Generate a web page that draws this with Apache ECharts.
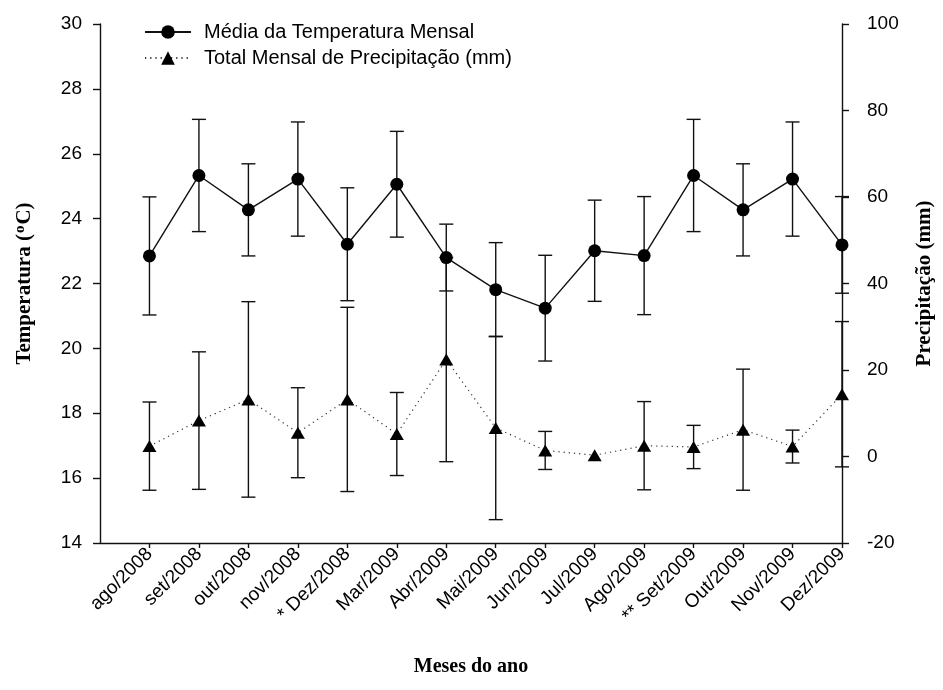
<!DOCTYPE html>
<html>
<head>
<meta charset="utf-8">
<script src="https://cdn.jsdelivr.net/npm/echarts@6/dist/echarts.min.js"></script>
<style>
  html, body { margin: 0; padding: 0; background: #fff; }
  #chart { width: 943px; height: 690px; }
</style>
</head>
<body>
<div id="chart"></div>
<script>
// meses (eixo x)
var months = ['ago/2008', 'set/2008', 'out/2008', 'nov/2008', '* Dez/2008', 'Mar/2009', 'Abr/2009',
  'Mai/2009', 'Jun/2009', 'Jul/2009', 'Ago/2009', '** Set/2009', 'Out/2009', 'Nov/2009', 'Dez/2009'];

// média da temperatura mensal (ºC) e desvio
var tempMean = [22.85, 25.33, 24.27, 25.22, 23.21, 25.06, 22.80, 21.81, 21.24, 23.01, 22.86, 25.33, 24.27, 25.22, 23.19];
var tempErr  = [1.82, 1.73, 1.42, 1.76, 1.74, 1.63, 1.03, 1.45, 1.63, 1.56, 1.82, 1.73, 1.42, 1.76, 1.49];

// total mensal de precipitação (mm) e desvio
var precTotal = [2.4, 8.3, 13.2, 5.5, 13.2, 5.2, 22.4, 6.6, 1.4, 0.3, 2.5, 2.2, 6.2, 2.3, 14.4];
var precErr   = [10.2, 15.9, 22.6, 10.4, 21.3, 9.6, 23.6, 21.2, 4.4, 0, 10.2, 5.0, 14.0, 3.8, 16.8];

var tempTicks = [14, 30, 2];
var precTicks = [-20, 100, 20];

var monthIdx = months.map(function (m, i) { return i; });

function pairs(vals) {
  return vals.map(function (v, i) { return [i, v]; });
}
function bars(vals, errs) {
  return vals.map(function (v, i) { return [i, v - errs[i], v + errs[i]]; });
}

function errorBar(params, api) {
  var x = api.value(0);
  var lo = api.value(1), hi = api.value(2);
  if (hi - lo <= 0) return null;
  var top = api.coord([x, hi]);
  var bot = api.coord([x, lo]);
  var w = 7;
  var st = { stroke: '#111', lineWidth: 1.4 };
  return {
    type: 'group',
    children: [
      { type: 'line', shape: { x1: top[0], y1: top[1], x2: bot[0], y2: bot[1] }, style: st },
      { type: 'line', shape: { x1: top[0] - w, y1: top[1], x2: top[0] + w, y2: top[1] }, style: st },
      { type: 'line', shape: { x1: bot[0] - w, y1: bot[1], x2: bot[0] + w, y2: bot[1] }, style: st }
    ]
  };
}

var sans = 'Liberation Sans, Arial, sans-serif';
var serif = 'Liberation Serif, Times New Roman, serif';
var axisColor = '#111';

var chart = echarts.init(document.getElementById('chart'));
chart.setOption({
  animation: false,
  backgroundColor: '#fff',
  textStyle: { fontFamily: sans, color: '#000' },
  grid: { left: 100, right: 101, top: 24, bottom: 147 },
  legend: {
    left: 144,
    top: 22,
    orient: 'vertical',
    padding: 0,
    itemGap: 6,
    itemWidth: 46,
    itemHeight: 17,
    data: ['Média da Temperatura Mensal', 'Total Mensal de Precipitação (mm)'],
    textStyle: { fontFamily: sans, fontSize: 20, color: '#000', padding: [0, 0, 0, 8] }
  },
  xAxis: {
    type: 'value',
    min: -1,
    max: 14,
    name: 'Meses do ano',
    nameLocation: 'middle',
    nameGap: 114,
    nameTextStyle: { fontFamily: serif, fontWeight: 'bold', fontSize: 20, color: '#000' },
    splitLine: { show: false },
    axisLine: { onZero: false, lineStyle: { color: axisColor, width: 1.4 } },
    axisTick: { length: 5, customValues: monthIdx, lineStyle: { color: axisColor, width: 1.4 } },
    axisLabel: {
      customValues: monthIdx,
      rotate: 45,
      margin: 8,
      fontSize: 19,
      color: '#000',
      formatter: function (v) { return months[v]; }
    }
  },
  yAxis: [
    {
      type: 'value',
      min: tempTicks[0],
      max: tempTicks[1],
      interval: tempTicks[2],
      name: '{t|Temperatura (}{s|o}{t|C)}',
      nameLocation: 'middle',
      nameRotate: 90,
      nameGap: 64,
      nameTextStyle: {
        rich: {
          t: { fontFamily: serif, fontWeight: 'bold', fontSize: 21, color: '#000' },
          s: { fontFamily: serif, fontWeight: 'bold', fontSize: 15, color: '#000', verticalAlign: 'top', padding: [0, 1, 8, 1] }
        }
      },
      splitLine: { show: false },
      axisLine: { show: true, onZero: false, lineStyle: { color: axisColor, width: 1.4 } },
      axisTick: { show: true, length: 7, lineStyle: { color: axisColor, width: 1.4 } },
      axisLabel: { margin: 18, fontSize: 19, color: '#000' }
    },
    {
      type: 'value',
      position: 'right',
      min: precTicks[0],
      max: precTicks[1],
      interval: precTicks[2],
      name: 'Precipitação (mm)',
      nameLocation: 'middle',
      nameRotate: 90,
      nameGap: 72,
      nameTextStyle: { fontFamily: serif, fontWeight: 'bold', fontSize: 21, color: '#000' },
      splitLine: { show: false },
      axisLine: { show: true, onZero: false, lineStyle: { color: axisColor, width: 1.4 } },
      axisTick: { show: true, length: 7, lineStyle: { color: axisColor, width: 1.4 } },
      axisLabel: { margin: 25, fontSize: 19, color: '#000' }
    }
  ],
  series: [
    {
      name: 'tempErr',
      type: 'custom',
      yAxisIndex: 0,
      clip: false,
      z: 1,
      renderItem: errorBar,
      encode: { x: 0, y: [1, 2] },
      data: bars(tempMean, tempErr)
    },
    {
      name: 'precErr',
      type: 'custom',
      yAxisIndex: 1,
      clip: false,
      z: 1,
      renderItem: errorBar,
      encode: { x: 0, y: [1, 2] },
      data: bars(precTotal, precErr)
    },
    {
      name: 'Média da Temperatura Mensal',
      type: 'line',
      yAxisIndex: 0,
      z: 3,
      symbol: 'circle',
      symbolSize: 13,
      itemStyle: { color: '#000' },
      lineStyle: { color: '#111', width: 1.4 },
      data: pairs(tempMean)
    },
    {
      name: 'Total Mensal de Precipitação (mm)',
      type: 'line',
      yAxisIndex: 1,
      z: 3,
      symbol: 'triangle',
      symbolSize: [14, 12],
      itemStyle: { color: '#000' },
      lineStyle: { color: '#333', width: 1.2, type: [1.2, 4] },
      data: pairs(precTotal)
    }
  ]
});
</script>
</body>
</html>
